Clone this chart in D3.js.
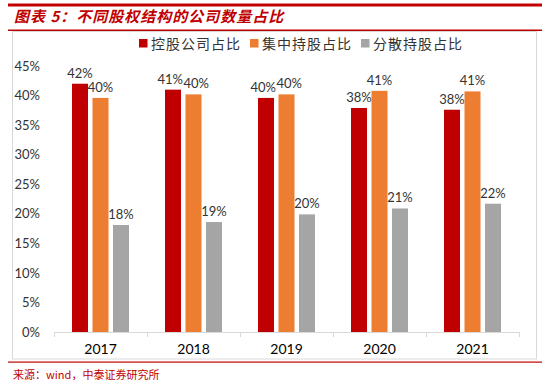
<!DOCTYPE html>
<html><head><meta charset="utf-8">
<script src="https://cdn.jsdelivr.net/npm/d3@7"></script>
<style>
html,body{margin:0;padding:0;background:#fff;}
svg{display:block;}
</style></head>
<body>
<svg id="c" width="550" height="384"></svg>
<script>
const years = ["2017","2018","2019","2020","2021"];
const seriesNames = ["控股公司占比","集中持股占比","分散持股占比"];
const seriesColors = ["#c00000","#ed7d31","#a5a5a5"];
const holdingCo = [42.0, 41.0, 39.6, 37.9, 37.6];
const concentrated = [39.6, 40.2, 40.2, 40.8, 40.7];
const dispersed = [18.1, 18.6, 19.9, 20.9, 21.7];
const yTicks = [0,5,10,15,20,25,30,35,40,45];
const title = "图表 5：不同股权结构的公司数量占比";
const source = "来源：wind，中泰证券研究所";

const series = [holdingCo, concentrated, dispersed];
const svg = d3.select("#c");
const font = "Lato, 'Open Sans', 'Noto Sans CJK SC', sans-serif";
const cjk = "'Noto Sans CJK SC', sans-serif";

// header lines
svg.append("rect").attr("x",8).attr("y",3.5).attr("width",534).attr("height",3).attr("fill","#c00000");
svg.append("rect").attr("x",8).attr("y",29.5).attr("width",534).attr("height",1.5).attr("fill","#c00000");
svg.append("text").attr("x",14).attr("y",22).attr("fill","#c00000")
  .attr("font-family",cjk).attr("font-size",15).attr("font-weight","bold").attr("font-style","italic")
  .attr("letter-spacing",1).text(title);
// frame
svg.append("rect").attr("x",12.5).attr("y",31.5).attr("width",524).attr("height",327.5)
  .attr("fill","none").attr("stroke","#d9d9d9").attr("stroke-width",1);
svg.append("rect").attr("x",8).attr("y",361.5).attr("width",534).attr("height",1.2).attr("fill","#c00000");
svg.append("text").attr("x",13).attr("y",379).attr("fill","#c00000")
  .attr("font-family",cjk).attr("font-size",11).text(source);

// scales
const x = d3.scaleBand().domain(years).range([54,519]);
const y = d3.scaleLinear().domain([0,45]).range([332,66]);
const barW = 16, gap = 4.5;
const groupW = barW*3 + gap*2;

// y axis labels
const ya = svg.append("g").attr("transform","translate(40,0)")
  .call(d3.axisLeft(y).tickValues(yTicks).tickSize(0).tickPadding(0).tickFormat(d=>d+"%"));
ya.select(".domain").remove();
ya.selectAll("text").attr("font-family",font).attr("font-size",13).attr("fill","#333");

// x axis
const xa = svg.append("g").attr("transform","translate(0,332)")
  .call(d3.axisBottom(x).tickSize(0).tickPadding(12));
xa.select(".domain").attr("stroke","#d9d9d9").attr("d","M54,0.5H519");
xa.selectAll("text").attr("font-family",font).attr("font-size",14).attr("fill","#000");
const bounds = years.map(d=>x(d)).concat([x.range()[1]]);
xa.selectAll(".bnd").data(bounds).enter().append("line")
  .attr("x1",d=>d+0.5).attr("x2",d=>d+0.5).attr("y1",0).attr("y2",5).attr("stroke","#d9d9d9");

// bars
const labels = [];
series.forEach((vals,si)=>{
  const g = svg.append("g");
  const xo = d => x(d) + x.bandwidth()/2 - groupW/2 + si*(barW+gap);
  g.selectAll("rect").data(years).enter().append("rect")
    .attr("x",(d)=>xo(d)).attr("width",barW)
    .attr("y",(d,i)=>y(vals[i])).attr("height",(d,i)=>y(0)-y(vals[i]))
    .attr("fill",seriesColors[si]);
  g.selectAll("text").data(years).enter().append("text")
    .attr("x",d=>xo(d)+barW/2).attr("y",(d,i)=>y(vals[i])-6)
    .attr("text-anchor","middle").attr("font-family",font).attr("font-size",13).attr("fill","#333")
    .text((d,i)=>Math.round(vals[i])+"%")
    .each(function(d,i){ labels.push({node:this, yi:i, si:si}); });
});
// simple collision avoidance between neighbouring labels within a group
years.forEach((yr,i)=>{
  const grp = labels.filter(l=>l.yi===i).sort((a,b)=>a.si-b.si);
  for(let k=0;k<grp.length-1;k++){
    const a = grp[k].node.getBBox(), b = grp[k+1].node.getBBox();
    const vOverlap = a.y < b.y+b.height-3 && b.y < a.y+a.height-3;
    const hOverlap = a.x+a.width - b.x + 0.5;
    if(vOverlap && hOverlap>0){
      const na = d3.select(grp[k].node), nb = d3.select(grp[k+1].node);
      na.attr("x", +na.attr("x") - hOverlap/2);
      nb.attr("x", +nb.attr("x") + hOverlap/2);
    }
  }
});

// legend
const legX = [139, 250, 361];
seriesNames.forEach((n,i)=>{
  svg.append("rect").attr("x",legX[i]).attr("y",39).attr("width",8.5).attr("height",8.5).attr("fill",seriesColors[i]);
  svg.append("text").attr("x",legX[i]+12).attr("y",49).attr("font-family",cjk).attr("font-size",14)
    .attr("letter-spacing",1).attr("fill","#333").text(n);
});
</script>
</body></html>
